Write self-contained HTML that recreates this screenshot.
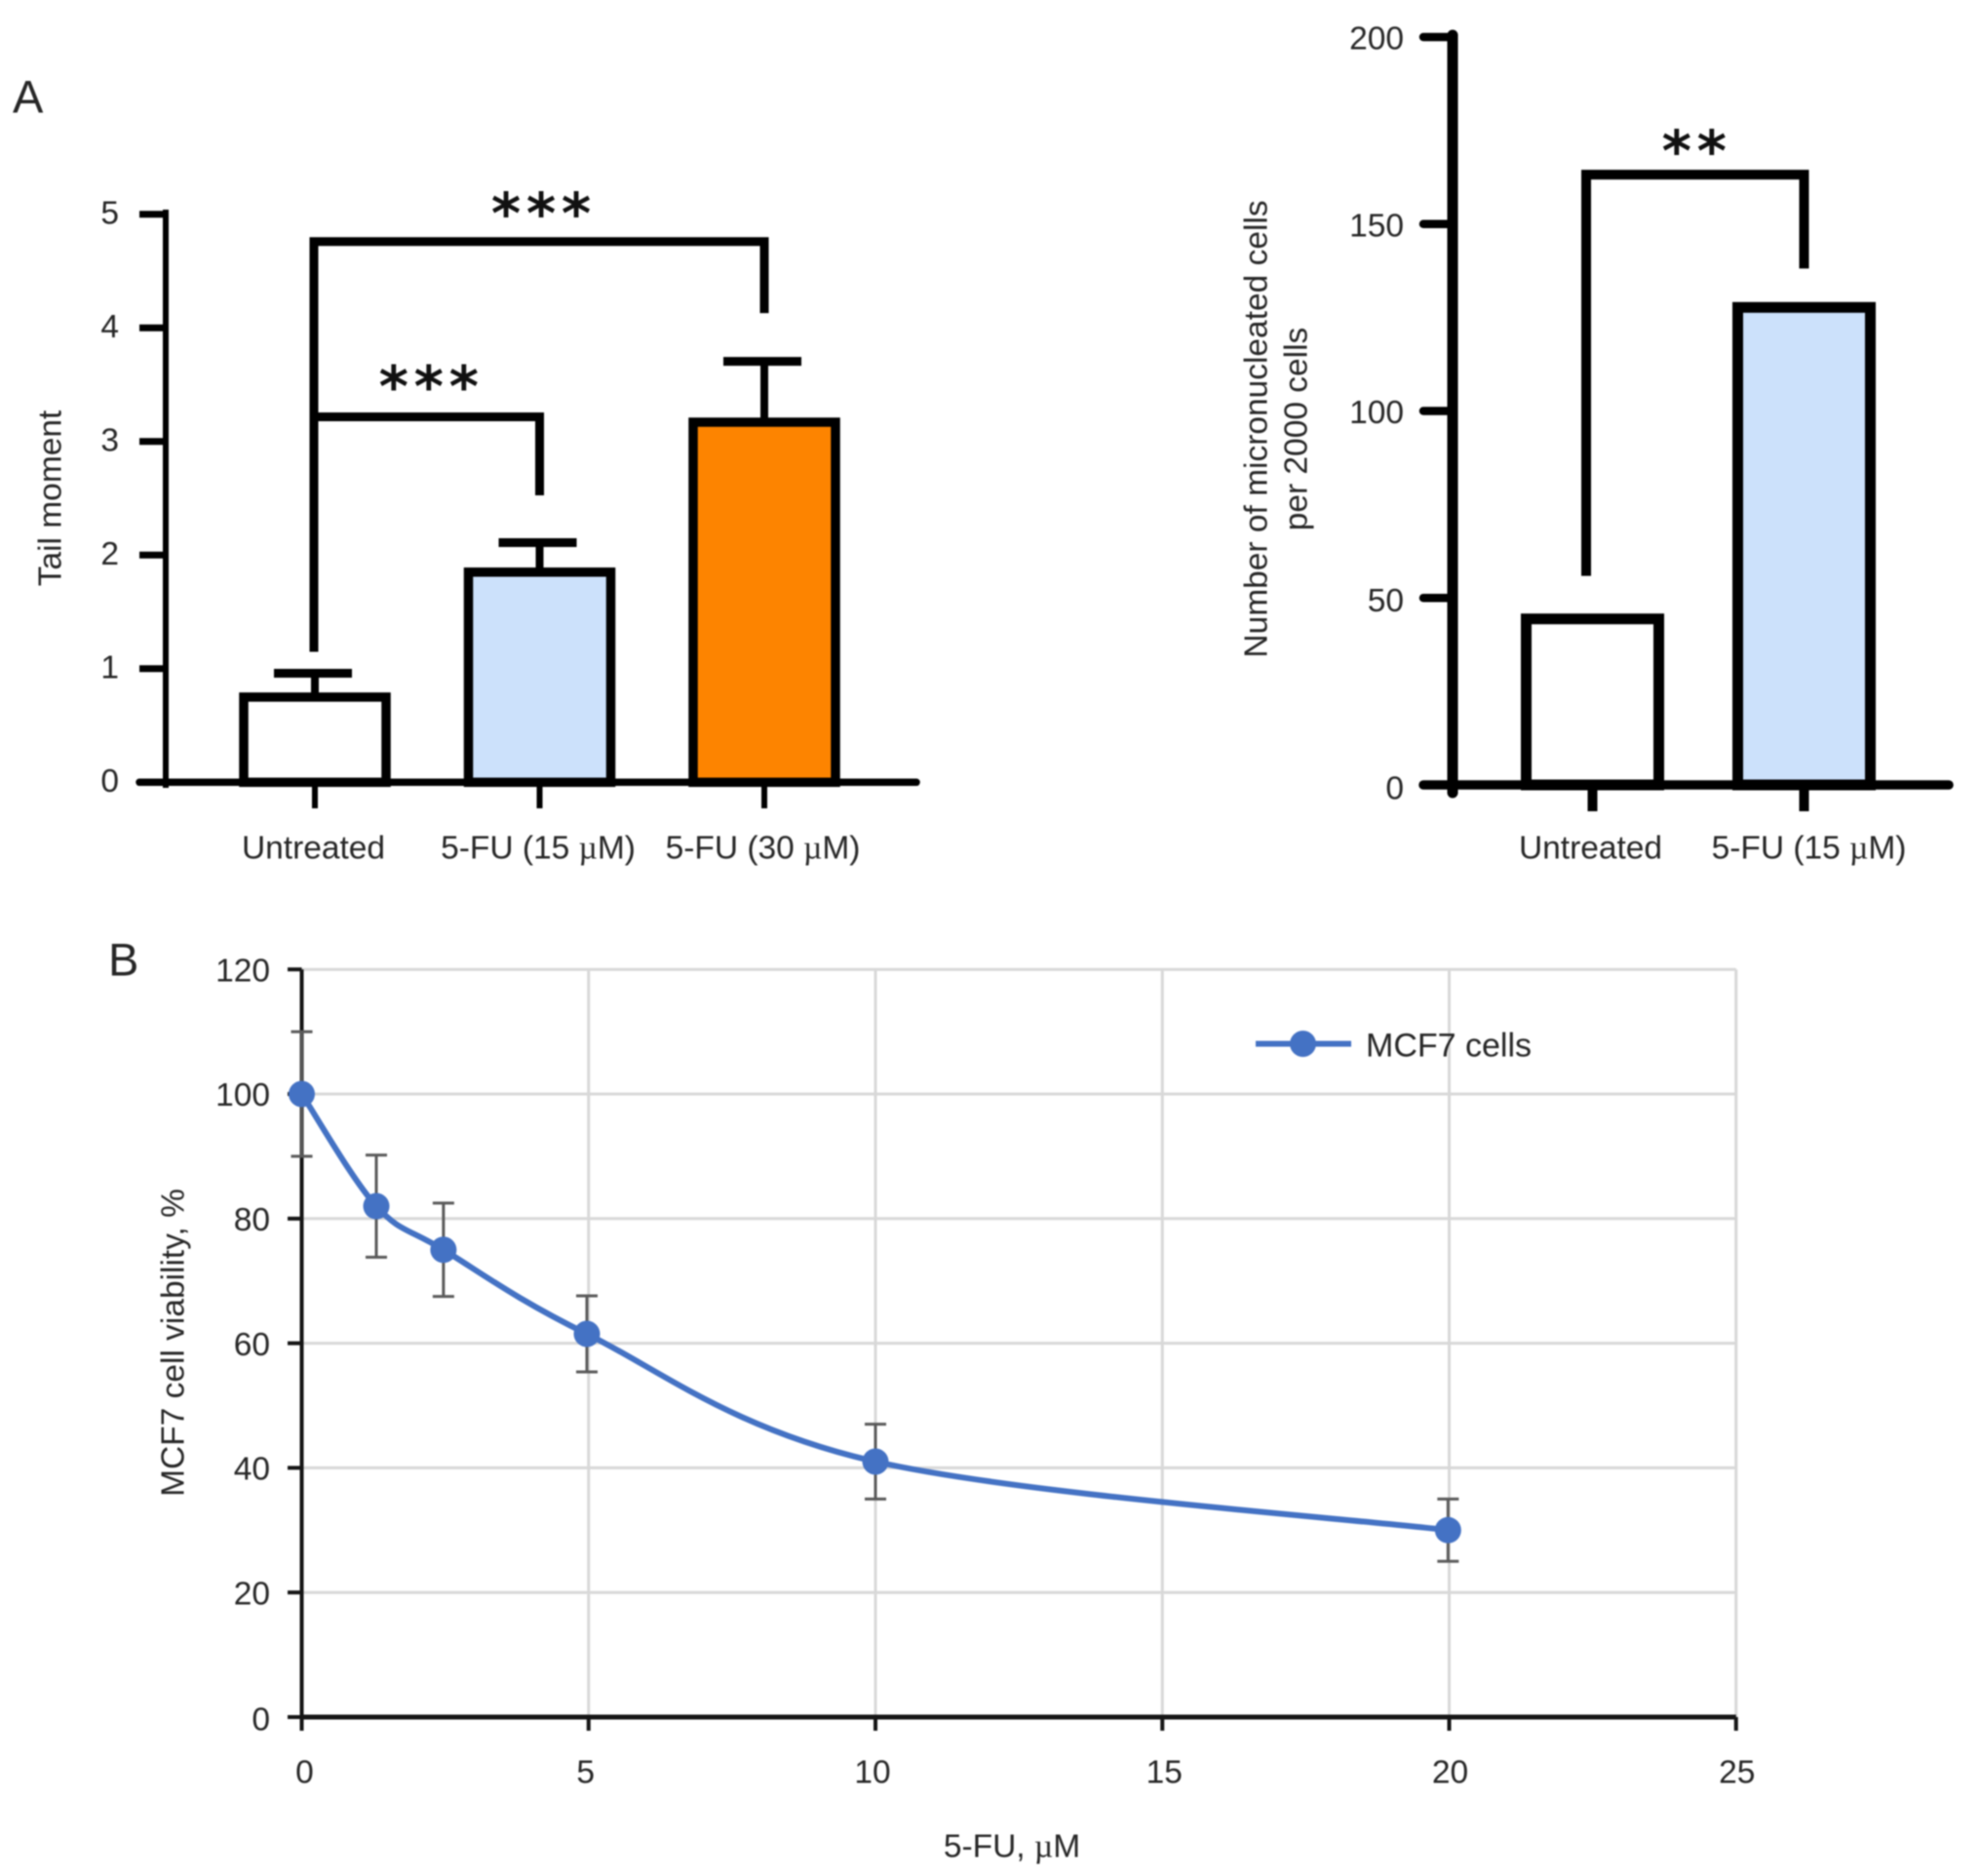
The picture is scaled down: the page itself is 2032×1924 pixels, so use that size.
<!DOCTYPE html>
<html lang="en">
<head>
<meta charset="utf-8">
<title>5-FU genotoxicity and MCF7 cell viability</title>
<style>
html,body{margin:0;padding:0;background:#fff;}
svg{display:block;filter:blur(.8px);}
text{font-family:"Liberation Sans",sans-serif;fill:#262626;}
</style>
</head>
<body>
<svg id="figure" width="2032" height="1924" viewBox="0 0 2032 1924" xmlns="http://www.w3.org/2000/svg"></svg>
<script>
// Panel A, left: tail moment
const tailCategories = ['Untreated', '5-FU (15 µM)', '5-FU (30 µM)'];
const tailValues = [0.75, 1.85, 3.17];
const tailErrors = [0.21, 0.26, 0.535];
const tailTicks = [0, 1, 2, 3, 4, 5];
const tailColors = ['#ffffff', '#cce1fb', '#fd8400'];
const tailBrackets = [
  {from: 0, to: 2, top: 4.76, fromEnd: 1.15, toEnd: 4.13, stars: '***'},
  {from: 0, to: 1, top: 3.217, fromEnd: 1.15, toEnd: 2.526, stars: '***'}
];
// Panel A, right: micronucleated cells
const microCategories = ['Untreated', '5-FU (15 µM)'];
const microValues = [44.4, 127.7];
const microTicks = [0, 50, 100, 150, 200];
const microColors = ['#ffffff', '#cce1fb'];
const microBrackets = [
  {from: 0, to: 1, top: 163.2, fromEnd: 55.9, toEnd: 138.1, stars: '**'}
];
// Panel B: viability curve
const doseValues = [0, 1.3, 2.47, 4.97, 10, 19.98];
const viabilityValues = [100, 82, 75, 61.5, 41, 30];
const viabilityErrors = [10, 8.2, 7.5, 6.1, 6, 5];
const doseTicks = [0, 5, 10, 15, 20, 25];
const viabilityTicks = [0, 20, 40, 60, 80, 100, 120];

const FONT = 33.5;
const svg = document.getElementById('figure');
const NS = 'http://www.w3.org/2000/svg';
function mk(tag, attrs, name, txt) {
  const el = document.createElementNS(NS, tag);
  for (const k in attrs) el.setAttribute(k, attrs[k]);
  
  
  if (txt !== undefined) el.textContent = txt;
  svg.appendChild(el);
  return el;
}
function line(x1, y1, x2, y2, color, w, name, cap) {
  return mk('line', {x1, y1, x2, y2, stroke: color, 'stroke-width': w, 'stroke-linecap': cap || 'butt'}, name);
}
function label(x, y, str, anchor, name, size) {
  return mk('text', {x, y, dy: '.35em', 'text-anchor': anchor, 'font-size': size || FONT}, name, str);
}
function vlabel(x, y, str, name) {
  return mk('text', {x, y, dy: '.35em', 'text-anchor': 'middle', 'font-size': FONT, transform: 'rotate(-90 ' + x + ' ' + y + ')'}, name, str);
}
function unitLabel(x, y, str, name) {
  // the micro sign is set in a serif face in the original
  const t = mk('text', {x, y, dy: '.35em', 'text-anchor': 'middle', 'font-size': FONT}, name);
  const parts = str.split('µ');
  t.appendChild(document.createTextNode(parts[0]));
  if (parts.length > 1) {
    const s = document.createElementNS(NS, 'tspan');
    s.setAttribute('font-family', '"Liberation Serif", serif');
    s.style.fontFamily = '"Liberation Serif", serif';
    s.textContent = 'µ';
    t.appendChild(s);
    t.appendChild(document.createTextNode(parts[1]));
  }
  return t;
}
function stars(cx, cy, str, spacing, name) {
  for (let i = 0; i < str.length; i++) {
    const t = mk('text', {x: cx + (i - (str.length - 1) / 2) * spacing, y: cy + 31, 'text-anchor': 'middle', 'font-size': 58, 'font-weight': 'bold'}, name, '*');
    t.style.fontFamily = '"DejaVu Sans", sans-serif';
    t.style.fill = '#111';
  }
}

function drawBracket(b, X, Y, inset, w, name, starsDx, starsDy) {
  const x1 = X(b.from) + inset, x2 = X(b.to);
  mk('path', {
    d: 'M' + x1 + ' ' + Y(b.fromEnd) + 'V' + Y(b.top) + 'H' + x2 + 'V' + Y(b.toEnd),
    fill: 'none', stroke: '#000', 'stroke-width': w, 'stroke-linejoin': 'miter'
  }, name);
  stars((x1 + x2) / 2 + starsDx, Y(b.top) + starsDy, b.stars, 36, name + '-stars');
}

// ---------- Panel A left ----------
(function () {
  const Y = v => 802.3 - v * 116.5;
  const X = i => 323 + i * 230.5;
  const barW = 146;
  const st = 9.5;
  line(170, 215, 170, 808, '#000', 6, 'tail-y-axis');
  tailTicks.forEach(t => {
    line(143, Y(t), 170, Y(t), '#000', 7, 'tail-y-tick-' + t);
    label(122, Y(t) - 2, String(t), 'end', 'tail-y-tick-label-' + t);
  });
  tailCategories.forEach((c, i) => {
    const h = tailValues[i];
    const top = Y(h + tailErrors[i]);
    line(X(i), Y(h), X(i), top, '#000', 8, 'tail-error-stem-' + i);
    line(X(i) - 42, top, X(i) + 38, top, '#000', 9, 'tail-error-cap-' + i);
    mk('rect', {x: X(i) - barW / 2, y: Y(h), width: barW, height: Y(0) - Y(h), fill: tailColors[i], stroke: '#000', 'stroke-width': st}, 'tail-bar-' + i);
    line(X(i), Y(0), X(i), 829, '#000', 6, 'tail-x-tick-' + i);
    unitLabel(X(i) - 1.5, 869, c, 'tail-x-label-' + i);
  });
  line(143, Y(0), 940, Y(0), '#000', 7.5, 'tail-x-axis', 'round');
  tailBrackets.forEach((b, i) => drawBracket(b, X, Y, -1, 9, 'tail-bracket-' + i, 2, i === 0 ? -40 : -42));
  vlabel(51, 511, 'Tail moment', 'tail-y-title');
})();

// ---------- Panel A right ----------
(function () {
  const Y = v => 805 - v * 3.835;
  const X = i => 1633.5 + i * 217;
  const barW = 136;
  line(1490, 36, 1490, 813, '#000', 11, 'micro-y-axis', 'round');
  microTicks.forEach(t => {
    line(1460, Y(t), 1490, Y(t), '#000', 8.5, 'micro-y-tick-' + t, 'round');
    label(1440, Y(t) + (t === 0 ? 3 : t === 50 ? 2 : 1), String(t), 'end', 'micro-y-tick-label-' + t);
  });
  microCategories.forEach((c, i) => {
    const h = microValues[i];
    mk('rect', {x: X(i) - barW / 2, y: Y(h), width: barW, height: Y(0) - Y(h), fill: microColors[i], stroke: '#000', 'stroke-width': 11}, 'micro-bar-' + i);
    line(X(i), Y(0), X(i), 832, '#000', 10, 'micro-x-tick-' + i);
    unitLabel(i === 0 ? X(i) - 2 : X(i) + 5, 869, c, 'micro-x-label-' + i);
  });
  line(1460, Y(0), 1999, Y(0), '#000', 9.5, 'micro-x-axis', 'round');
  microBrackets.forEach((b, i) => drawBracket(b, X, Y, -6.5, 10, 'micro-bracket-' + i, -1, -35));
  vlabel(1288, 440, 'Number of micronucleated cells', 'micro-y-title-line-1');
  vlabel(1329, 440, 'per 2000 cells', 'micro-y-title-line-2');
})();

// ---------- Panel B ----------
(function () {
  const X = v => 309.5 + v * 58.85;
  const Y = v => 1761 - v * 6.39;
  const grid = '#d8d8d8';
  const labelNudge = {0: 3, 5: -3, 10: -3, 15: 2, 20: 1, 25: 1};
  viabilityTicks.forEach(t => {
    if (t > 0) line(X(0), Y(t), X(25), Y(t), grid, 3, 'grid-horizontal-' + t);
  });
  doseTicks.forEach(t => {
    if (t > 0) line(X(t), Y(120), X(t), Y(0), grid, 3, 'grid-vertical-' + t);
  });
  line(X(0), Y(120), X(0), Y(0) + 2, '#151515', 4, 'viability-y-axis');
  line(X(0), Y(0), X(25), Y(0), '#151515', 5, 'viability-x-axis');
  viabilityTicks.forEach(t => {
    line(295, Y(t), X(0), Y(t), '#151515', 4, 'viability-y-tick-' + t);
    label(277, Y(t) + (t === 0 ? 2 : 0.5), String(t), 'end', 'viability-y-tick-label-' + t);
  });
  doseTicks.forEach(t => {
    line(X(t), Y(0), X(t), 1775, '#151515', 4, 'viability-x-tick-' + t);
    label(X(t) + labelNudge[t], 1817, String(t), 'middle', 'viability-x-tick-label-' + t);
  });
  // error bars
  doseValues.forEach((d, i) => {
    const hi = Y(viabilityValues[i] + viabilityErrors[i]);
    const lo = Y(viabilityValues[i] - viabilityErrors[i]);
    const c = '#5a5a5a';
    line(X(d), hi, X(d), lo, c, 3, 'viability-error-stem-' + i);
    line(X(d) - 11, hi, X(d) + 11, hi, c, 3, 'viability-error-cap-high-' + i);
    line(X(d) - 11, lo, X(d) + 11, lo, c, 3, 'viability-error-cap-low-' + i);
  });
  // smoothed curve through the points
  const pts = doseValues.map((d, i) => [X(d), Y(viabilityValues[i])]);
  let d = 'M' + pts[0][0] + ' ' + pts[0][1];
  for (let i = 0; i < pts.length - 1; i++) {
    const p0 = pts[Math.max(i - 1, 0)], p1 = pts[i], p2 = pts[i + 1], p3 = pts[Math.min(i + 2, pts.length - 1)];
    const c1x = p1[0] + (p2[0] - p0[0]) / 6, c1y = p1[1] + (p2[1] - p0[1]) / 6;
    const c2x = p2[0] - (p3[0] - p1[0]) / 6, c2y = p2[1] - (p3[1] - p1[1]) / 6;
    d += 'C' + c1x + ' ' + c1y + ' ' + c2x + ' ' + c2y + ' ' + p2[0] + ' ' + p2[1];
  }
  mk('path', {d, fill: 'none', stroke: '#4472c4', 'stroke-width': 6}, 'viability-line');
  doseValues.forEach((v, i) => {
    mk('circle', {cx: X(v), cy: Y(viabilityValues[i]), r: 13.5, fill: '#4472c4'}, 'viability-point-' + i);
  });
  // legend
  line(1288, 1070.5, 1386, 1070.5, '#4472c4', 6, 'legend-line');
  mk('circle', {cx: 1336.5, cy: 1070.5, r: 13.5, fill: '#4472c4'}, 'legend-marker');
  label(1401, 1071.5, 'MCF7 cells', 'start', 'legend-label', 34);
  vlabel(177, 1377, 'MCF7 cell viability, %', 'viability-y-title');
  unitLabel(1038, 1893, '5-FU, µM', 'viability-x-title');
})();

// panel letters
label(13, 99, 'A', 'start', 'panel-label-a', 47);
label(111, 984, 'B', 'start', 'panel-label-b', 47);
</script>
</body>
</html>
